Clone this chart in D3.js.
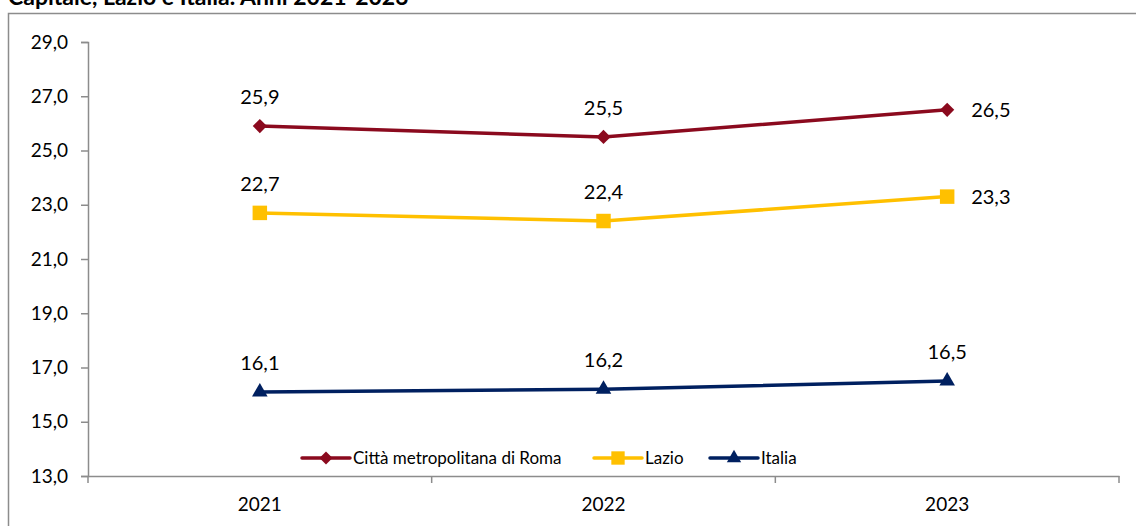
<!DOCTYPE html>
<html>
<head>
<meta charset="utf-8">
<script src="https://cdn.jsdelivr.net/npm/d3@7"></script>
<style>
  body { margin: 0; background: #fff; }
  svg { display: block; font-family: Lato, "Open Sans", sans-serif; }
</style>
</head>
<body>
<div id="chart"></div>
<script>
// --- dati ---
const years = ["2021", "2022", "2023"];
const roma = [25.9, 25.5, 26.5];
const lazio = [22.7, 22.4, 23.3];
const italia = [16.1, 16.2, 16.5];
const yTicks = [13, 15, 17, 19, 21, 23, 25, 27, 29];
const seriesNames = ["Città metropolitana di Roma", "Lazio", "Italia"];

const W = 1136, H = 526;
const svg = d3.select("#chart").append("svg").attr("width", W).attr("height", H);

// titolo (tagliato in alto come nell'originale)
svg.append("text").attr("x", 8).attr("y", 5)
  .attr("font-weight", "bold").attr("font-size", 23).text("Capitale, Lazio e Italia. Anni 2021-2023");

// bordo esterno
svg.append("rect").attr("x", 8.5).attr("y", 13.5).attr("width", 1140).attr("height", 530)
  .attr("fill", "none").attr("stroke", "#8c8c8c").attr("stroke-width", 1.5);

const x = d3.scaleBand().domain(years).range([88, 1119]);
const y = d3.scaleLinear().domain([13, 29]).range([476, 42]);

const fmt = d => d3.format(".1f")(d).replace(".", ",");

// asse y
const yAxis = svg.append("g").attr("transform", "translate(88,0)")
  .call(d3.axisLeft(y).tickValues(yTicks).tickSize(7).tickPadding(13).tickFormat(fmt));
// asse x
const xAxis = svg.append("g").attr("transform", "translate(0,476)")
  .call(d3.axisBottom(x).tickSize(0).tickPadding(22));
[yAxis, xAxis].forEach(g => {
  g.select(".domain").attr("stroke", "#8c8c8c").attr("stroke-width", 1.5);
  g.selectAll(".tick line").attr("stroke", "#8c8c8c").attr("stroke-width", 1.5);
  g.selectAll(".tick text").attr("font-size", 19).attr("fill", "#000")
    .attr("font-family", "Lato, 'Open Sans', sans-serif");
});
// tacche dell'asse x ai bordi delle bande
const bounds = years.map(d => x(d)).concat([x.range()[1]]);
svg.append("g").selectAll("line").data(bounds).enter().append("line")
  .attr("x1", d => d).attr("x2", d => d).attr("y1", 476).attr("y2", 483)
  .attr("stroke", "#8c8c8c").attr("stroke-width", 1.5);

const series = [
  { name: seriesNames[0], values: roma, color: "#8b0a1e", shape: d3.symbolSquare, size: 100, rot: 45, labelRight: true },
  { name: seriesNames[1], values: lazio, color: "#ffc000", shape: d3.symbolSquare, size: 210, rot: 0, labelRight: true },
  { name: seriesNames[2], values: italia, color: "#002060", shape: d3.symbolTriangle, size: 105, rot: 0, labelRight: false }
];

const cx = d => x(d) + x.bandwidth() / 2;
const line = d3.line().x((d, i) => cx(years[i])).y(d => y(d));

series.forEach(s => {
  svg.append("path").datum(s.values).attr("d", line)
    .attr("fill", "none").attr("stroke", s.color).attr("stroke-width", 3.5);
  svg.append("g").selectAll("path").data(s.values).enter().append("path")
    .attr("transform", (d, i) => `translate(${cx(years[i])},${y(d)}) rotate(${s.rot})`)
    .attr("d", d3.symbol().type(s.shape).size(s.size)).attr("fill", s.color);
  svg.append("g").selectAll("text").data(s.values).enter().append("text")
    .attr("x", (d, i) => (i === 2 && s.labelRight) ? cx(years[i]) + 24 : cx(years[i]))
    .attr("y", (d, i) => (i === 2 && s.labelRight) ? y(d) + 7 : y(d) - 22)
    .attr("text-anchor", (d, i) => (i === 2 && s.labelRight) ? "start" : "middle")
    .attr("font-size", 20).text(fmt);
});

// legenda
const legendX = [302, 594, 710];
const leg = svg.append("g").selectAll("g").data(series).enter().append("g")
  .attr("transform", (d, i) => `translate(${legendX[i]},458)`);
leg.append("line").attr("x1", 0).attr("x2", 48).attr("stroke", d => d.color).attr("stroke-width", 3.5)
  .attr("stroke-linecap", "round");
leg.append("path").attr("transform", d => `translate(24,0) rotate(${d.rot})`)
  .attr("d", d => d3.symbol().type(d.shape).size(d.size * 0.85)()).attr("fill", d => d.color);
leg.append("text").attr("x", 51).attr("y", 6).attr("font-size", 17).text(d => d.name);
</script>
</body>
</html>
